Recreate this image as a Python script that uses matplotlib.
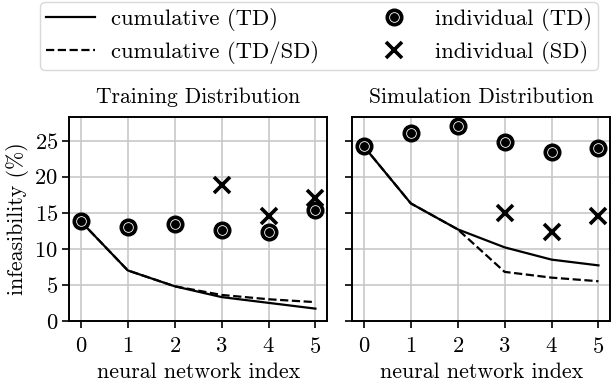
import matplotlib
matplotlib.use('Agg')
import matplotlib.pyplot as plt
from matplotlib.legend_handler import HandlerTuple

plt.rcParams['font.family'] = 'serif'
plt.rcParams['font.serif'] = ['cmr10']
plt.rcParams['mathtext.fontset'] = 'cm'
plt.rcParams['axes.formatter.use_mathtext'] = True
plt.rcParams['font.size'] = 16.3

idx = [0, 1, 2, 3, 4, 5]
sd_idx = [3, 4, 5]

# training distribution
td_cum_td = [13.8, 7.0, 4.8, 3.3, 2.5, 1.7]
td_cum_tdsd = [13.8, 7.0, 4.8, 3.6, 3.0, 2.6]
td_ind_td = [13.8, 13.0, 13.4, 12.6, 12.4, 15.4]
td_ind_sd = [18.8, 14.6, 17.1]

# simulation distribution
sim_cum_td = [24.2, 16.3, 12.7, 10.2, 8.5, 7.7]
sim_cum_tdsd = [24.2, 16.3, 12.7, 6.8, 6.0, 5.5]
sim_ind_td = [24.2, 26.0, 27.0, 24.8, 23.4, 24.0]
sim_ind_sd = [15.0, 12.4, 14.6]

panels = [
    ('Training Distribution', td_cum_td, td_cum_tdsd, td_ind_td, td_ind_sd),
    ('Simulation Distribution', sim_cum_td, sim_cum_tdsd, sim_ind_td, sim_ind_sd),
]

fig, axes = plt.subplots(1, 2, figsize=(6.12, 3.82), dpi=100, sharey=True)
fig.subplots_adjust(left=0.113, right=0.997, bottom=0.16, top=0.694, wspace=0.097)

for ax, (title, cum_td, cum_tdsd, ind_td, ind_sd) in zip(axes, panels):
    l1, = ax.plot(idx, cum_td, '-', color='black', lw=1.6, zorder=3)
    l2, = ax.plot(idx, cum_tdsd, '--', color='black', lw=1.6, zorder=2)
    m1, = ax.plot(idx, ind_td, 'o', color='black', ms=12, ls='none', zorder=4)
    m1b, = ax.plot(idx, ind_td, 'o', mfc='black', mec='white', mew=0.6, ms=7,
                   ls='none', zorder=5)
    m2, = ax.plot(sd_idx, ind_sd, 'x', color='black', ms=11.5, mew=2.6, ls='none', zorder=4)
    ax.set_title(title, fontsize=15.5, pad=10)
    ax.set_xlim(-0.25, 5.25)
    ax.set_ylim(0, 28.3)
    ax.set_xticks(idx)
    ax.set_yticks([0, 5, 10, 15, 20, 25])
    ax.set_xlabel('neural network index', fontsize=15.8, labelpad=4)
    ax.grid(True, color='#c8c8c8', lw=1.2)
    ax.set_axisbelow(True)
    for s in ax.spines.values():
        s.set_linewidth(1.4)
    ax.tick_params(width=1.2, length=5, pad=3)
    ax.tick_params(axis='x', pad=6.5)

axes[0].set_ylabel('infeasibility (%)', fontsize=15.8, labelpad=4)

fig.legend([l1, l2, (m1, m1b), m2],
           ['cumulative (TD)', 'cumulative (TD/SD)', 'individual (TD)', 'individual (SD)'],
           handler_map={tuple: HandlerTuple(ndivide=1, pad=0)},
           ncol=2, loc='upper left', bbox_to_anchor=(40 / 612, 1 - 2 / 382),
           columnspacing=2.2, handlelength=2.2, handletextpad=0.7,
           labelspacing=0.45, borderpad=0.25, borderaxespad=0,
           frameon=True, fancybox=True, edgecolor='#d0d0d0')

fig.savefig('out.png', dpi=100)
